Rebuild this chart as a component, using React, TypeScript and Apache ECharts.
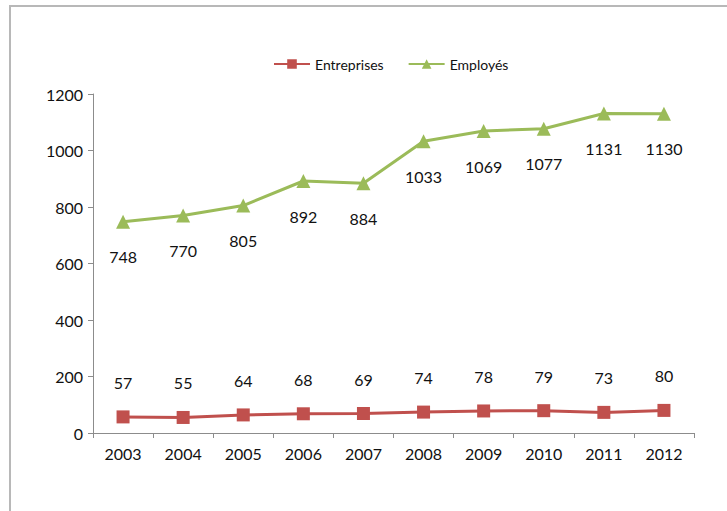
import React, { useEffect, useRef } from "react";
import * as echarts from "echarts";

const years = ["2003", "2004", "2005", "2006", "2007", "2008", "2009", "2010", "2011", "2012"];
const entreprises = [57, 55, 64, 68, 69, 74, 78, 79, 73, 80];
const employes = [748, 770, 805, 892, 884, 1033, 1069, 1077, 1131, 1130];

const FONT = "Lato, 'Open Sans', sans-serif";

export default function App() {
  const ref = useRef<HTMLDivElement>(null);
  useEffect(() => {
    if (!ref.current) return;
    const chart = echarts.init(ref.current, null, { renderer: "svg" });
    chart.setOption({
      animation: false,
      backgroundColor: "#ffffff",
      textStyle: { fontFamily: FONT },
      graphic: [
        { type: "line", shape: { x1: 9, y1: 6, x2: 727, y2: 6 }, style: { stroke: "#b8b8b8", lineWidth: 2 } },
        { type: "line", shape: { x1: 10, y1: 6, x2: 10, y2: 511 }, style: { stroke: "#b8b8b8", lineWidth: 2 } },
      ],
      legend: {
        top: 52,
        left: 268,
        itemWidth: 36,
        itemHeight: 12,
        itemGap: 24,
        textStyle: { fontFamily: FONT, fontSize: 14, color: "#111" },
        data: ["Entreprises", "Employés"],
      },
      grid: { left: 93, right: 33, top: 94, bottom: 78, containLabel: false },
      xAxis: {
        type: "category",
        data: years,
        boundaryGap: true,
        axisLine: { lineStyle: { color: "#8c8c8c", width: 1 } },
        axisTick: { show: true, length: 5, inside: false, alignWithLabel: false, lineStyle: { color: "#8c8c8c" } },
        axisLabel: { fontFamily: FONT, fontSize: 16, color: "#111", margin: 12 },
      },
      yAxis: {
        type: "value",
        min: 0,
        max: 1200,
        interval: 200,
        splitLine: { show: false },
        axisLine: { show: true, lineStyle: { color: "#8c8c8c", width: 1 } },
        axisTick: { show: true, length: 5, lineStyle: { color: "#8c8c8c" } },
        axisLabel: { fontFamily: FONT, fontSize: 16, color: "#111", margin: 10, formatter: (v: number) => String(v) },
      },
      series: [
        {
          name: "Entreprises",
          type: "line",
          data: entreprises,
          color: "#c0504d",
          symbol: "rect",
          symbolSize: 13,
          lineStyle: { width: 3, color: "#c0504d" },
          itemStyle: { color: "#c0504d" },
          label: { show: true, position: "top", distance: 20, fontFamily: FONT, fontSize: 16, color: "#111" },
        },
        {
          name: "Employés",
          type: "line",
          data: employes,
          color: "#9bbb59",
          symbol: "triangle",
          symbolSize: 14,
          lineStyle: { width: 3, color: "#9bbb59" },
          itemStyle: { color: "#9bbb59" },
          label: { show: true, position: "bottom", distance: 20, fontFamily: FONT, fontSize: 16, color: "#111" },
        },
      ],
    });
    return () => chart.dispose();
  }, []);
  return <div ref={ref} style={{ width: 727, height: 511, position: "absolute", left: 0, top: 0 }} />;
}
